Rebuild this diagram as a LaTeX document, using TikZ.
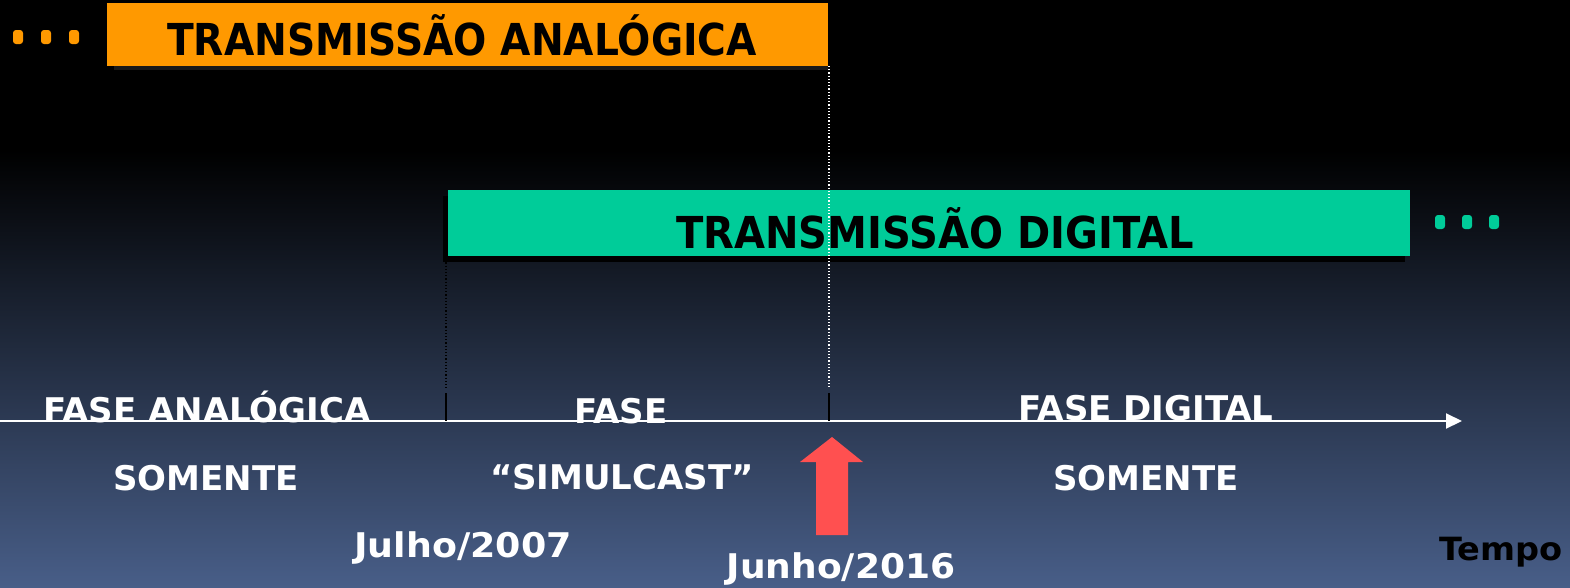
\documentclass[tikz,border=0pt]{standalone}
\usepackage{fontspec}
\setmainfont{DejaVu Sans}
\usetikzlibrary{arrows.meta}
\definecolor{bgbot}{RGB}{72,94,136}
\definecolor{orangebar}{RGB}{255,153,0}
\definecolor{greenbar}{RGB}{0,204,153}
\definecolor{redarrow}{RGB}{255,80,80}
\tikzset{
  phase/.style={text=white,font=\fontsize{34}{36}\selectfont\bfseries,inner sep=0pt,anchor=base},
  bartitle/.style={text=black,font=\fontsize{44}{46}\selectfont\bfseries,inner sep=0pt,anchor=base},
  dotmark/.style={rounded corners=3pt,minimum width=10pt,minimum height=14pt,inner sep=0pt},
}
\begin{document}
\begin{tikzpicture}[x=1pt,y=-1pt]
\useasboundingbox (0,0) rectangle (1570,587);
\fill[black] (0,0) rectangle (1570,150);
\shade[top color=black,bottom color=bgbot] (0,150) rectangle (1570,587);
% orange bar
\fill[black!90!white] (114,9) rectangle (828,70);
\fill[orangebar] (107,3) rectangle (828,66);
\node[bartitle] (ta) at (462,55) {\scalebox{0.89}[1]{TRANSMISSÃO ANALÓGICA}};
\foreach \x/\n in {18/o1,46/o2,74/o3}
  \node[dotmark,fill=orangebar] (\n) at (\x,37) {};
% green bar
\fill[black] (443,196) rectangle (1405,262);
\fill[greenbar] (448,190) rectangle (1410,256);
\node[bartitle] (td) at (935,248) {\scalebox{0.91}[1]{TRANSMISSÃO DIGITAL}};
\foreach \x/\n in {1440/g1,1467/g2,1494/g3}
  \node[dotmark,fill=greenbar] (\n) at (\x,222) {};
% coordinates
\coordinate (d1top) at (446,256);
\coordinate (d1bot) at (446,388);
\coordinate (d2top) at (829,66);
\coordinate (d2bot) at (829,388);
\coordinate (t1a) at (446,393);
\coordinate (t1b) at (446,421);
\coordinate (t2a) at (829,393);
\coordinate (t2b) at (829,421);
\coordinate (axs) at (0,421);
\coordinate (axe) at (1462,421);
% dotted lines
\draw[black,line width=1.2pt,dotted] (d1top) -- (d1bot);
\draw[white,line width=1.2pt,dotted] (d2top) -- (d2bot);
% axis
\draw[white,line width=2pt,-{Triangle[length=16pt,width=15pt]}] (axs) -- (axe);
\draw[black,line width=2pt] (t1a) -- (t1b);
\draw[black,line width=2pt] (t2a) -- (t2b);
% texts
\node[phase] (fa) at (207,422) {FASE ANALÓGICA};
\node[phase] (s1) at (206,490) {SOMENTE};
\node[phase] (fs) at (621,423) {FASE};
\node[phase] (sc) at (622,489) {“SIMULCAST”};
\node[phase] (fd) at (1146,420) {FASE DIGITAL};
\node[phase] (s2) at (1146,490) {SOMENTE};
\node[phase] (j1) at (463,557) {\scalebox{1.07}[1]{Julho/2007}};
\node[phase] (j2) at (841,578) {\scalebox{1.06}[1]{Junho/2016}};
\node[phase,text=black,font=\fontsize{32}{34}\selectfont\bfseries] (tp) at (1501,560) {\scalebox{1.05}[1]{Tempo}};
% red arrow
\fill[redarrow] (832,437) -- (863,462) -- (848,462) -- (848,535) -- (816,535) -- (816,462) -- (800,462) -- cycle;
\end{tikzpicture}
\end{document}
